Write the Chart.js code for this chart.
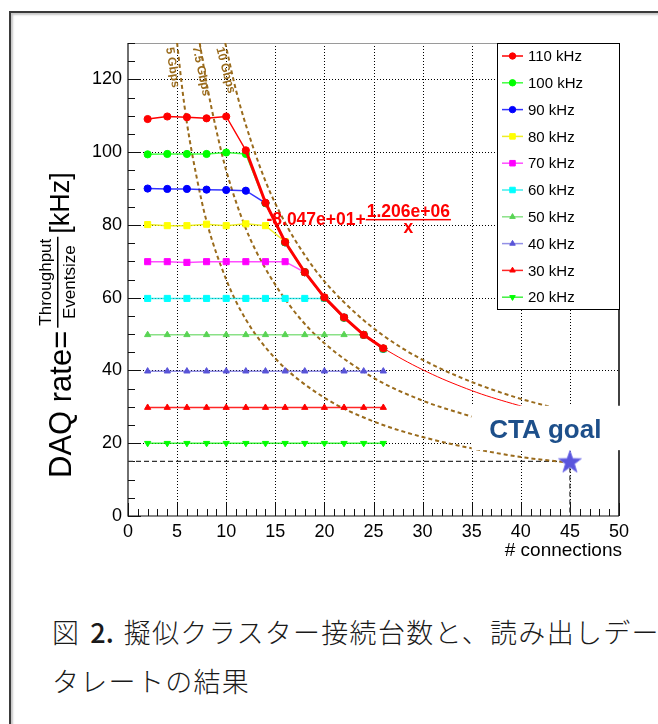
<!DOCTYPE html>
<html>
<head>
<meta charset="utf-8">
<script src="https://cdn.jsdelivr.net/npm/chart.js@4.4.1/dist/chart.umd.min.js"></script>
<style>
  html, body { margin: 0; padding: 0; background: #fff; }
  body { width: 658px; height: 724px; overflow: hidden; position: relative; }
  #frame { position: absolute; left: 9px; top: 11px; width: 720px; height: 800px;
           border: 2px solid #3a3a3a; box-shadow: inset 2px 2px 2px #c8c8c8; }
  #wrap { position: absolute; left: 0; top: 0; width: 658px; height: 580px; }
  #caption { position: absolute; left: 52px; top: 607px; font-family: "Noto Sans CJK JP", sans-serif; font-weight: 300;
             font-size: 27px; line-height: 49px; white-space: nowrap; color: #1a1a1a; letter-spacing: 1.3px; }
  #caption .num { margin-left: 10px; font-weight: 500; letter-spacing: 0; }
  #caption .txt { margin-left: 10px; }
</style>
</head>
<body>
<div id="frame"></div>
<div id="wrap"><canvas id="daq-rate"></canvas></div>
<div id="caption">図<span class="num">2.</span><span class="txt">擬似クラスター接続台数と、読み出しデー</span><br>タレートの結果</div>
<script>
// number of connections (x) for every measured series
const connections = [2, 4, 6, 8, 10, 12, 14, 16, 18, 20, 22, 24, 26];

// measured DAQ rate [kHz] per requested rate
const rate110kHz = [109.1, 109.8, 109.6, 109.3, 109.8, 100.5, 86.1, 75.3, 67.0, 60.1, 54.6, 49.8, 46.1];
const rate100kHz = [99.4, 99.5, 99.5, 99.5, 99.9, 99.5, 86.0, 75.2, 67.0, 60.0, 54.5, 49.8, 46.0];
const rate90kHz  = [90.0, 89.9, 89.9, 89.7, 89.6, 89.4, 86.0, 75.2, 67.0, 60.0, 54.5, 49.8, 46.0];
const rate80kHz  = [80.1, 79.8, 79.8, 80.2, 79.8, 80.3, 79.8, 75.4, 67.0, 60.0, 54.5, 49.8, 46.0];
const rate70kHz  = [69.9, 69.9, 69.7, 69.9, 69.9, 69.9, 69.9, 69.9, 67.0, 60.0, 54.5, 49.8, 46.0];
const rate60kHz  = [59.8, 59.8, 59.8, 59.8, 59.8, 59.8, 59.8, 59.8, 59.8, 59.8, 54.6, 49.8, 45.9];
const rate50kHz  = [49.8, 49.8, 49.8, 49.8, 49.8, 49.8, 49.8, 49.8, 49.8, 49.8, 49.8, 49.8, 46.0];
const rate40kHz  = [39.8, 39.8, 39.8, 39.8, 39.8, 39.8, 39.8, 39.8, 39.8, 39.8, 39.8, 39.8, 39.8];
const rate30kHz  = [29.8, 29.8, 29.8, 29.8, 29.8, 29.8, 29.8, 29.8, 29.8, 29.8, 29.8, 29.8, 29.8];
const rate20kHz  = [20.0, 20.0, 20.0, 20.0, 20.0, 20.0, 20.0, 20.0, 20.0, 20.0, 20.0, 20.0, 20.0];

const seriesLabels = ['110 kHz', '100 kHz', '90 kHz', '80 kHz', '70 kHz', '60 kHz', '50 kHz', '40 kHz', '30 kHz', '20 kHz'];
const seriesValues = [rate110kHz, rate100kHz, rate90kHz, rate80kHz, rate70kHz, rate60kHz, rate50kHz, rate40kHz, rate30kHz, rate20kHz];

// fit curve continuing past the last point
const fitX = [26, 28, 30, 32, 34, 36, 38, 40.3];
const fitY = [46.1, 43.0, 40.2, 37.7, 35.5, 33.5, 31.8, 30.0];
const fitText = ['-8.047e+01+', '1.206e+06', 'x'];

// bandwidth limit curves
const gbps5X  = [5.0, 5.5, 6, 7, 8, 10, 12, 15, 20, 25, 30, 35, 40, 44.5];
const gbps5Y  = [130, 118, 108, 93, 81, 65, 54, 43.3, 32.5, 26.0, 21.7, 18.6, 16.2, 14.8];
const gbps75X = [7.3, 8, 9, 10, 12, 14, 17, 20, 25, 30, 35];
const gbps75Y = [130, 119, 106, 95, 79, 68, 56, 47.5, 38.0, 31.7, 27.3];
const gbps10X = [9.9, 11, 12, 14, 16, 18, 20, 24, 28, 32, 36, 40, 43];
const gbps10Y = [130, 117, 107.5, 92, 80.6, 71.7, 64.5, 53.8, 46.0, 40.3, 35.8, 32.2, 30.0];
const gbpsLabels = ['5 Gbps', '7.5 Gbps', '10 Gbps'];
const gbpsLabelX = [4.2, 6.9, 9.3];
const gbpsLabelY = [128.8, 129.1, 128.8];

// CTA goal
const goalX = 45;
const goalY = 15;
const goalText = 'CTA goal';

const xTickValues = [0, 5, 10, 15, 20, 25, 30, 35, 40, 45, 50];
const yTickValues = [0, 20, 40, 60, 80, 100, 120];

const FONT = '"Liberation Sans", Arial, Helvetica, sans-serif';
const seriesColors = ['#ff0000', '#00ff00', '#0000ff', '#ffff00', '#ff00ff', '#00ffff', '#59d454', '#5954d8', '#ff0000', '#00ff00'];
const seriesLineColors = ['#ff0000', 'rgba(0,255,0,0.75)', 'rgba(0,0,255,0.8)', 'rgba(235,235,0,0.85)', 'rgba(255,0,255,0.7)', 'rgba(0,230,230,0.75)', 'rgba(89,212,84,0.7)', 'rgba(89,84,216,0.65)', 'rgba(255,0,0,0.85)', 'rgba(0,235,0,0.75)'];
const seriesStyles = ['circle', 'circle', 'circle', 'rect', 'rect', 'rect', 'triangle', 'triangle', 'triangle', 'triangle'];
const seriesRadius = [3.6, 3.6, 3.6, 4.3, 4.3, 4.3, 3.6, 3.6, 3.6, 3.6];
const seriesRotation = [0, 0, 0, 0, 0, 0, 0, 0, 0, 180];
const gbpsColor = '#9a6b1c';

function toPoints(xs, ys) {
    return xs.map((x, i) => ({ x: x, y: ys[i] }));
}

function makeStar(outer, inner, color) {
    const c = document.createElement('canvas');
    c.width = c.height = Math.ceil(outer * 2 + 2);
    const g = c.getContext('2d');
    const cx = c.width / 2, cy = c.height / 2 + 1;
    g.beginPath();
    for (let i = 0; i < 10; i++) {
        const r = i % 2 === 0 ? outer : inner;
        const a = -Math.PI / 2 + i * Math.PI / 5;
        g.lineTo(cx + r * Math.cos(a), cy + r * Math.sin(a));
    }
    g.closePath();
    g.fillStyle = color;
    g.fill();
    g.strokeStyle = 'rgba(120,116,235,0.9)';
    g.lineWidth = 1;
    g.stroke();
    return c;
}

const datasets = [];
// goal star (index 0, drawn last)
datasets.push({
    label: 'goal', legend: false, data: [{ x: goalX, y: goalY }], showLine: false,
    pointStyle: makeStar(12, 4.8, '#5a55dc'), pointRadius: 12
});
seriesLabels.forEach((label, i) => {
    const ds = {
        label: label, legend: true,
        data: toPoints(connections, seriesValues[i]),
        showLine: true,
        borderColor: seriesLineColors[i],
        borderWidth: 1.5,
        pointStyle: seriesStyles[i],
        pointRadius: seriesRadius[i],
        pointRotation: seriesRotation[i],
        pointBackgroundColor: seriesColors[i],
        pointBorderColor: seriesColors[i],
        pointBorderWidth: 1,
        legendColor: seriesColors[i]
    };
    if (i === 0) {
        ds.segment = { borderWidth: ctx => (ctx.p0.parsed.x >= 12 ? 3 : 1.4) };
    }
    datasets.push(ds);
});
datasets.push({ label: 'fit', legend: false, data: toPoints(fitX, fitY), showLine: true, borderColor: '#ff0000', borderWidth: 1, pointRadius: 0, tension: 0.3 });
[[gbps10X, gbps10Y], [gbps75X, gbps75Y], [gbps5X, gbps5Y]].forEach(c => {
    datasets.push({ label: 'gbps', legend: false, data: toPoints(c[0], c[1]), showLine: true, borderColor: gbpsColor,
        borderWidth: 2, borderDash: [4, 3], pointRadius: 0, cubicInterpolationMode: 'monotone' });
});
datasets.push({ label: 'goal lines', legend: false, data: [{ x: 0, y: goalY }, { x: goalX, y: goalY }, { x: goalX, y: 0 }],
    showLine: true, borderColor: '#333', borderWidth: 1.2, borderDash: [5, 3], pointRadius: 0 });

const daqPlugin = {
    id: 'daqDecor',
    beforeDatasetsDraw(chart) {
        const ctx = chart.ctx, a = chart.chartArea, xs = chart.scales.x, ys = chart.scales.y;
        ctx.save();
        // dotted grid at the major ticks
        ctx.strokeStyle = '#000'; ctx.lineWidth = 1;
        ctx.setLineDash([1, 2]);
        xTickValues.forEach(v => {
            if (v <= 0 || v >= 50) return;
            const px = Math.round(xs.getPixelForValue(v)) + 0.5;
            ctx.beginPath(); ctx.moveTo(px, a.top); ctx.lineTo(px, a.bottom); ctx.stroke();
        });
        yTickValues.forEach(v => {
            if (v <= 0) return;
            const py = Math.round(ys.getPixelForValue(v)) + 0.5;
            ctx.beginPath(); ctx.moveTo(a.left, py); ctx.lineTo(a.right, py); ctx.stroke();
        });
        ctx.setLineDash([]);
        // frame
        ctx.strokeStyle = '#9a9a9a'; ctx.lineWidth = 1;
        ctx.beginPath(); ctx.moveTo(a.left, a.top + 0.5); ctx.lineTo(a.right, a.top + 0.5); ctx.stroke();
        ctx.strokeStyle = '#111'; ctx.lineWidth = 1.6;
        ctx.beginPath(); ctx.moveTo(a.right, a.top); ctx.lineTo(a.right, a.bottom); ctx.stroke();
        ctx.lineWidth = 1.2;
        ctx.beginPath(); ctx.moveTo(a.left, a.top); ctx.lineTo(a.left, a.bottom); ctx.lineTo(a.right, a.bottom); ctx.stroke();
        // inward ticks
        ctx.lineWidth = 1;
        ctx.beginPath();
        for (let v = 0; v <= 50; v += 1) {
            const px = Math.round(xs.getPixelForValue(v)) + 0.5;
            const len = v % 5 === 0 ? 13 : 7;
            ctx.moveTo(px, a.bottom); ctx.lineTo(px, a.bottom - len);
        }
        for (let v = 0; v <= 130; v += 5) {
            const py = Math.round(ys.getPixelForValue(v)) + 0.5;
            const len = v % 20 === 0 ? 13 : 7;
            ctx.moveTo(a.left, py); ctx.lineTo(a.left + len, py);
        }
        ctx.stroke();
        ctx.restore();
    },
    beforeDatasetDraw(chart, args) {
        if (args.index !== 0) return;
        // white label box for the goal, drawn over curves and frame
        const ctx = chart.ctx, a = chart.chartArea, xs = chart.scales.x, ys = chart.scales.y;
        const left = xs.getPixelForValue(35.0);
        const top = ys.getPixelForValue(30.3);
        const bottom = ys.getPixelForValue(18.1);
        ctx.save();
        ctx.fillStyle = '#fff';
        ctx.fillRect(left, top, a.right + 16 - left, bottom - top);
        ctx.fillStyle = '#1d4f8a';
        ctx.font = 'bold 26px ' + FONT;
        ctx.textAlign = 'center'; ctx.textBaseline = 'middle';
        ctx.fillText(goalText, xs.getPixelForValue(42.5), (top + bottom) / 2 + 3);
        ctx.restore();
    },
    afterDatasetsDraw(chart) {
        const ctx = chart.ctx, xs = chart.scales.x, ys = chart.scales.y;
        ctx.save();
        // Gbps labels
        const angles = [81, 78, 75];
        ctx.fillStyle = gbpsColor;
        ctx.font = 'bold 12px ' + FONT;
        ctx.textAlign = 'left'; ctx.textBaseline = 'middle';
        gbpsLabels.forEach((t, i) => {
            ctx.save();
            ctx.translate(xs.getPixelForValue(gbpsLabelX[i]), ys.getPixelForValue(gbpsLabelY[i]));
            ctx.rotate(angles[i] * Math.PI / 180);
            ctx.fillText(t, 0, 0);
            ctx.restore();
        });
        // fit formula
        const fx = xs.getPixelForValue(14.1), fy = ys.getPixelForValue(80.0);
        ctx.fillStyle = '#ff0000';
        ctx.font = 'bold 17.5px ' + FONT;
        ctx.textBaseline = 'alphabetic';
        ctx.fillText(fitText[0], fx, fy);
        const w0 = ctx.measureText(fitText[0]).width;
        const wn = ctx.measureText(fitText[1]).width;
        ctx.fillText(fitText[1], fx + w0 + 1, fy - 8);
        ctx.fillRect(fx + w0, fy - 6, wn + 2, 1.5);
        ctx.textAlign = 'center';
        ctx.fillText(fitText[2], fx + w0 + 1 + wn / 2, fy + 8);
        ctx.restore();
    },
    afterDraw(chart) {
        const ctx = chart.ctx, a = chart.chartArea;
        ctx.save();
        // legend box
        const lx = a.right - 122, ly = a.top, lw = 123, lh = 267;
        ctx.fillStyle = '#fff';
        ctx.fillRect(lx, ly, lw, lh);
        ctx.strokeStyle = '#000'; ctx.lineWidth = 1;
        ctx.strokeRect(lx + 0.5, ly + 0.5, lw - 1, lh - 1);
        const entries = chart.data.datasets.filter(d => d.legend);
        ctx.font = '15px ' + FONT;
        ctx.textBaseline = 'middle'; ctx.textAlign = 'left';
        entries.forEach((d, i) => {
            const y = ly + 13 + i * 26.8;
            ctx.strokeStyle = d.borderColor; ctx.lineWidth = 1.5;
            ctx.beginPath(); ctx.moveTo(lx + 5, y); ctx.lineTo(lx + 26, y); ctx.stroke();
            ctx.fillStyle = d.legendColor; ctx.strokeStyle = d.legendColor; ctx.lineWidth = 1;
            Chart.helpers.drawPoint(ctx, { pointStyle: d.pointStyle, radius: d.pointRadius - 0.4, rotation: d.pointRotation, borderWidth: 1 }, lx + 15.5, y);
            ctx.fillStyle = '#000';
            ctx.fillText(d.label, lx + 31, y + 1);
        });
        // axis titles
        ctx.fillStyle = '#000';
        ctx.font = '19px ' + FONT;
        ctx.textAlign = 'right'; ctx.textBaseline = 'alphabetic';
        ctx.fillText('# connections', a.right + 3, a.bottom + 40);
        ctx.translate(a.left - 71, a.bottom - 38);
        ctx.rotate(-Math.PI / 2);
        ctx.textAlign = 'left'; ctx.textBaseline = 'middle';
        ctx.font = '31px ' + FONT;
        ctx.fillText('DAQ rate=', 0, 5);
        let u = ctx.measureText('DAQ rate=').width + 3;
        ctx.font = '17px ' + FONT;
        const wt = ctx.measureText('Throughput').width, we = ctx.measureText('Eventsize').width;
        const fw = Math.max(wt, we) + 4;
        ctx.textAlign = 'center';
        ctx.fillText('Throughput', u + fw / 2, -11);
        ctx.fillText('Eventsize', u + fw / 2, 13);
        ctx.fillRect(u, 0, fw, 1.5);
        ctx.textAlign = 'left';
        ctx.font = '27px ' + FONT;
        ctx.fillText('[kHz]', u + fw + 3, 5);
        ctx.restore();
    }
};

const daqChart = new Chart(document.getElementById('daq-rate').getContext('2d'), {
    type: 'scatter',
    data: { datasets: datasets },
    plugins: [daqPlugin],
    options: {
        responsive: true,
        maintainAspectRatio: false,
        animation: false,
        events: [],
        layout: { padding: { left: 0, top: 43, right: 39, bottom: 0 } },
        plugins: { legend: { display: false }, tooltip: { enabled: false } },
        scales: {
            x: {
                type: 'linear', min: 0, max: 50,
                afterBuildTicks: s => { s.ticks = xTickValues.map(v => ({ value: v })); },
                afterFit: s => { s.height = 64; },
                grid: { display: false, drawTicks: false },
                border: { display: false },
                ticks: { color: '#000', font: { family: FONT, size: 18 }, padding: 5, maxRotation: 0, autoSkip: false }
            },
            y: {
                type: 'linear', min: 0, max: 130,
                afterBuildTicks: s => { s.ticks = yTickValues.map(v => ({ value: v })); },
                afterFit: s => { s.width = 128; },
                grid: { display: false, drawTicks: false },
                border: { display: false },
                ticks: { color: '#000', font: { family: FONT, size: 18 }, padding: 6, autoSkip: false }
            }
        }
    }
});
</script>
</body>
</html>
